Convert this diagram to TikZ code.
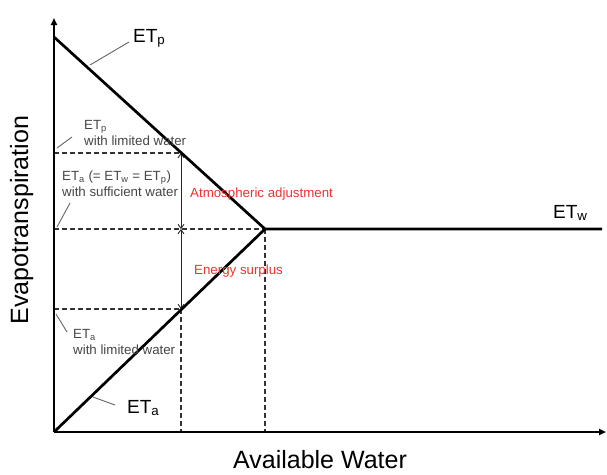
\documentclass[tikz,border=0pt]{standalone}
\usepackage{fontspec}
\setmainfont{Liberation Sans}
\usetikzlibrary{arrows.meta}
\definecolor{txtgray}{RGB}{70,70,70}
\definecolor{adjred}{RGB}{235,50,50}
\definecolor{leadgray}{RGB}{100,100,100}

\begin{document}
\begin{tikzpicture}[x=1pt,y=-1pt,
  curve/.style={line width=2.7pt},
  axis/.style={line width=2.2pt, -{Triangle[length=7pt,width=6pt]}},
  guide/.style={line width=1.2pt, dash pattern=on 5pt off 3pt, black!80},
  span/.style={line width=0.9pt, black!85, {Straight Barb[length=4pt,width=6pt]}-{Straight Barb[length=4pt,width=6pt]}},
  leader/.style={line width=0.9pt, leadgray},
  biglabel/.style={inner sep=0pt, anchor=base west, font=\fontsize{19}{22}\selectfont},
  smalllabel/.style={inner sep=0pt, anchor=base west, align=left, text=txtgray, font=\fontsize{13.3}{15.5}\selectfont},
  redlabel/.style={inner sep=0pt, anchor=base west, text=adjred, font=\fontsize{13.3}{15.5}\selectfont},
  axislabel/.style={inner sep=0pt, anchor=base, font=\fontsize{25}{29}\selectfont}]

\useasboundingbox (0,0) rectangle (607,474);

% Key points
\coordinate (O) at (54,432);
\coordinate (ytop) at (54,18);
\coordinate (xend) at (606,432);
\coordinate (pmax) at (54,37);
\coordinate (peak) at (265,229);
\coordinate (wend) at (602,229);
\coordinate (lvlp) at (54,153);
\coordinate (lvlw) at (54,229);
\coordinate (lvla) at (54,309);
\coordinate (cutp) at (181,153);
\coordinate (cutw) at (181,229);
\coordinate (cuta) at (181,309);
\coordinate (cutx) at (181,432);
\coordinate (peakx) at (265,432);

% Guide lines
\draw[guide] (lvlp) -- (cutp);
\draw[guide] (lvlw) -- (peak);
\draw[guide] (lvla) -- (cuta);
\draw[guide] (cuta) -- (cutx);
\draw[guide] (peak) -- (peakx);

% Spans
\draw[span] (cutp) -- (cutw);
\draw[span] (cutw) -- (cuta);

% Axes
\draw[axis] (O) -- (ytop);
\draw[axis] (O) -- (xend);

% Curves
\draw[curve, line join=miter] (pmax) -- (peak) -- (wend);
\draw[curve] (O) -- (peak);

% Labels
\node[biglabel] (etp) at (133,42) {ET\textsubscript{p}};
\node[biglabel] (eta) at (127,413) {ET\textsubscript{a}};
\node[biglabel] (etw) at (553,218) {ET\textsubscript{w}};

\node[smalllabel] (plim) at (84,145) {ET\textsubscript{p}\\with limited water};
\node[smalllabel] (asuf) at (62,196) {ET\textsubscript{a} (= ET\textsubscript{w} = ET\textsubscript{p})\\with sufficient water};
\node[smalllabel] (alim) at (73,354) {ET\textsubscript{a}\\with limited water};

\node[redlabel] (adjust) at (190,197) {Atmospheric adjustment};
\node[redlabel] (surplus) at (194,274) {Energy surplus};

\node[axislabel, rotate=90] (ylab) at (28,220) {Evapotranspiration};
\node[axislabel] (xlab) at (320,468) {Available Water};

% Leaders
\coordinate (lp1) at (90,65);
\coordinate (lp2) at (129,42);
\coordinate (la1) at (93,397);
\coordinate (la2) at (115,405);
\coordinate (ls1) at (57,148);
\coordinate (ls2) at (72,137);
\coordinate (lw1) at (57,227);
\coordinate (lw2) at (70,203);
\coordinate (ll1) at (56,314);
\coordinate (ll2) at (67,332);
\draw[leader] (lp1) -- (lp2);
\draw[leader] (la1) -- (la2);
\draw[leader] (ls1) -- (ls2);
\draw[leader] (lw1) -- (lw2);
\draw[leader] (ll1) -- (ll2);

\end{tikzpicture}
\end{document}
